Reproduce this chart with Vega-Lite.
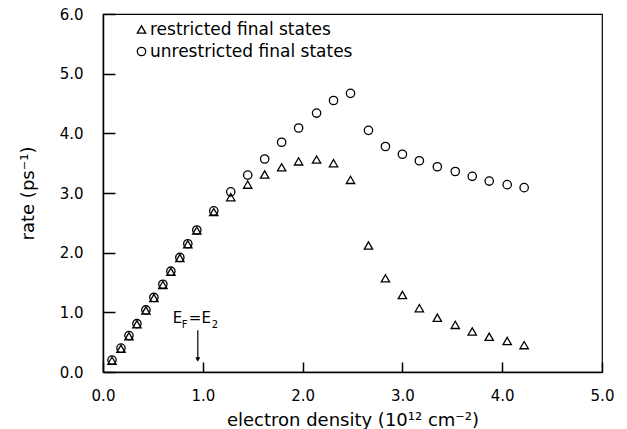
{
  "$schema": "https://vega.github.io/schema/vega-lite/v6.json",
  "width": 499,
  "height": 358,
  "autosize": "none",
  "padding": {"left": 103, "top": 14, "right": 25, "bottom": 57},
  "background": "white",
  "config": {
    "view": {"stroke": "black", "strokeWidth": 1.2},
    "font": "DejaVu Sans",
    "axis": {
      "grid": false,
      "domain": true,
      "domainColor": "black",
      "domainWidth": 1.5,
      "ticks": true,
      "tickColor": "black",
      "tickWidth": 1.5,
      "tickOpacity": 1,
      "labelColor": "black",
      "titleColor": "black",
      "labelFont": "DejaVu Sans",
      "titleFont": "DejaVu Sans",
      "labelFontSize": 15,
      "titleFontSize": 18,
      "titleFontWeight": "normal",
      "labelFlush": false,
      "zindex": 1
    },
    "legend": {"labelFont": "DejaVu Sans", "labelColor": "black"}
  },
  "datasets": {
    "points": [
      {"series": "unrestricted final states", "density": 0.09, "rate": 0.20},
      {"series": "unrestricted final states", "density": 0.18, "rate": 0.40},
      {"series": "unrestricted final states", "density": 0.26, "rate": 0.61},
      {"series": "unrestricted final states", "density": 0.34, "rate": 0.81},
      {"series": "unrestricted final states", "density": 0.43, "rate": 1.04},
      {"series": "unrestricted final states", "density": 0.51, "rate": 1.25},
      {"series": "unrestricted final states", "density": 0.60, "rate": 1.47},
      {"series": "unrestricted final states", "density": 0.68, "rate": 1.69},
      {"series": "unrestricted final states", "density": 0.77, "rate": 1.92},
      {"series": "unrestricted final states", "density": 0.85, "rate": 2.15},
      {"series": "unrestricted final states", "density": 0.94, "rate": 2.38},
      {"series": "unrestricted final states", "density": 1.11, "rate": 2.70},
      {"series": "unrestricted final states", "density": 1.28, "rate": 3.02},
      {"series": "unrestricted final states", "density": 1.45, "rate": 3.30},
      {"series": "unrestricted final states", "density": 1.62, "rate": 3.57},
      {"series": "unrestricted final states", "density": 1.79, "rate": 3.85},
      {"series": "unrestricted final states", "density": 1.96, "rate": 4.09},
      {"series": "unrestricted final states", "density": 2.14, "rate": 4.34},
      {"series": "unrestricted final states", "density": 2.31, "rate": 4.55},
      {"series": "unrestricted final states", "density": 2.48, "rate": 4.67},
      {"series": "unrestricted final states", "density": 2.66, "rate": 4.05},
      {"series": "unrestricted final states", "density": 2.83, "rate": 3.78},
      {"series": "unrestricted final states", "density": 3.00, "rate": 3.65},
      {"series": "unrestricted final states", "density": 3.17, "rate": 3.54},
      {"series": "unrestricted final states", "density": 3.35, "rate": 3.44},
      {"series": "unrestricted final states", "density": 3.53, "rate": 3.36},
      {"series": "unrestricted final states", "density": 3.70, "rate": 3.28},
      {"series": "unrestricted final states", "density": 3.87, "rate": 3.20},
      {"series": "unrestricted final states", "density": 4.05, "rate": 3.14},
      {"series": "unrestricted final states", "density": 4.22, "rate": 3.09},
      {"series": "restricted final states", "density": 0.09, "rate": 0.19},
      {"series": "restricted final states", "density": 0.18, "rate": 0.39},
      {"series": "restricted final states", "density": 0.26, "rate": 0.60},
      {"series": "restricted final states", "density": 0.34, "rate": 0.80},
      {"series": "restricted final states", "density": 0.43, "rate": 1.03},
      {"series": "restricted final states", "density": 0.51, "rate": 1.24},
      {"series": "restricted final states", "density": 0.60, "rate": 1.46},
      {"series": "restricted final states", "density": 0.68, "rate": 1.68},
      {"series": "restricted final states", "density": 0.77, "rate": 1.91},
      {"series": "restricted final states", "density": 0.85, "rate": 2.14},
      {"series": "restricted final states", "density": 0.94, "rate": 2.37},
      {"series": "restricted final states", "density": 1.11, "rate": 2.68},
      {"series": "restricted final states", "density": 1.28, "rate": 2.93},
      {"series": "restricted final states", "density": 1.45, "rate": 3.14},
      {"series": "restricted final states", "density": 1.62, "rate": 3.31},
      {"series": "restricted final states", "density": 1.79, "rate": 3.43},
      {"series": "restricted final states", "density": 1.96, "rate": 3.53},
      {"series": "restricted final states", "density": 2.14, "rate": 3.56},
      {"series": "restricted final states", "density": 2.31, "rate": 3.50},
      {"series": "restricted final states", "density": 2.48, "rate": 3.22},
      {"series": "restricted final states", "density": 2.66, "rate": 2.12},
      {"series": "restricted final states", "density": 2.83, "rate": 1.57},
      {"series": "restricted final states", "density": 3.00, "rate": 1.29},
      {"series": "restricted final states", "density": 3.17, "rate": 1.07},
      {"series": "restricted final states", "density": 3.35, "rate": 0.91},
      {"series": "restricted final states", "density": 3.53, "rate": 0.79},
      {"series": "restricted final states", "density": 3.70, "rate": 0.68},
      {"series": "restricted final states", "density": 3.87, "rate": 0.59},
      {"series": "restricted final states", "density": 4.05, "rate": 0.52},
      {"series": "restricted final states", "density": 4.22, "rate": 0.45}
    ],
    "mainText": [
      {"label": "E", "density": 0.70, "rate": 0.82},
      {"label": "=E", "density": 0.86, "rate": 0.82}
    ],
    "subText": [
      {"label": "F", "density": 0.79, "rate": 0.74},
      {"label": "2", "density": 1.09, "rate": 0.74}
    ],
    "arrow": [
      {"density": 0.95, "rate": 0.70, "rate2": 0.20}
    ],
    "arrowHead": [
      {"density": 0.95, "rate": 0.21}
    ]
  },
  "layer": [
    {
      "data": {"name": "points"},
      "mark": {"type": "point", "filled": false, "color": "black", "strokeWidth": 1.3, "size": 70, "opacity": 1},
      "encoding": {
        "x": {
          "field": "density", "type": "quantitative",
          "scale": {"domain": [0, 5], "nice": false, "zero": false},
          "axis": {"values": [0, 1, 2, 3, 4, 5], "format": ".1f", "tickSize": -10, "labelPadding": 26,
                   "title": "electron density (10¹² cm⁻²)", "titleY": 53, "titleBaseline": "alphabetic"}
        },
        "y": {
          "field": "rate", "type": "quantitative",
          "scale": {"domain": [0, 6], "nice": false, "zero": false},
          "axis": {"values": [0, 1, 2, 3, 4, 5, 6], "format": ".1f", "tickSize": -12, "labelPadding": 32,
                   "title": "rate (ps⁻¹)", "titleX": -70, "titleBaseline": "alphabetic"}
        },
        "shape": {
          "field": "series", "type": "nominal",
          "scale": {"domain": ["restricted final states", "unrestricted final states"], "range": ["triangle-up", "circle"]},
          "legend": {"orient": "none", "legendX": 30, "legendY": 7, "title": null, "labelFontSize": 17, "labelLimit": 0,
                     "symbolStrokeColor": "black", "symbolFillColor": "transparent", "symbolSize": 70,
                     "symbolStrokeWidth": 1.3, "rowPadding": 4, "padding": 0, "labelOffset": 0}
        }
      }
    },
    {
      "data": {"name": "mainText"},
      "mark": {"type": "text", "align": "left", "baseline": "alphabetic", "fontSize": 15, "color": "black"},
      "encoding": {
        "x": {"field": "density", "type": "quantitative"},
        "y": {"field": "rate", "type": "quantitative"},
        "text": {"field": "label"}
      }
    },
    {
      "data": {"name": "subText"},
      "mark": {"type": "text", "align": "left", "baseline": "alphabetic", "fontSize": 10, "color": "black"},
      "encoding": {
        "x": {"field": "density", "type": "quantitative"},
        "y": {"field": "rate", "type": "quantitative"},
        "text": {"field": "label"}
      }
    },
    {
      "data": {"name": "arrow"},
      "mark": {"type": "rule", "color": "black", "strokeWidth": 1.2},
      "encoding": {
        "x": {"field": "density", "type": "quantitative"},
        "y": {"field": "rate", "type": "quantitative"},
        "y2": {"field": "rate2"}
      }
    },
    {
      "data": {"name": "arrowHead"},
      "mark": {"type": "point", "shape": "triangle-down", "filled": true, "color": "black", "size": 25, "opacity": 1},
      "encoding": {
        "x": {"field": "density", "type": "quantitative"},
        "y": {"field": "rate", "type": "quantitative"}
      }
    }
  ]
}
